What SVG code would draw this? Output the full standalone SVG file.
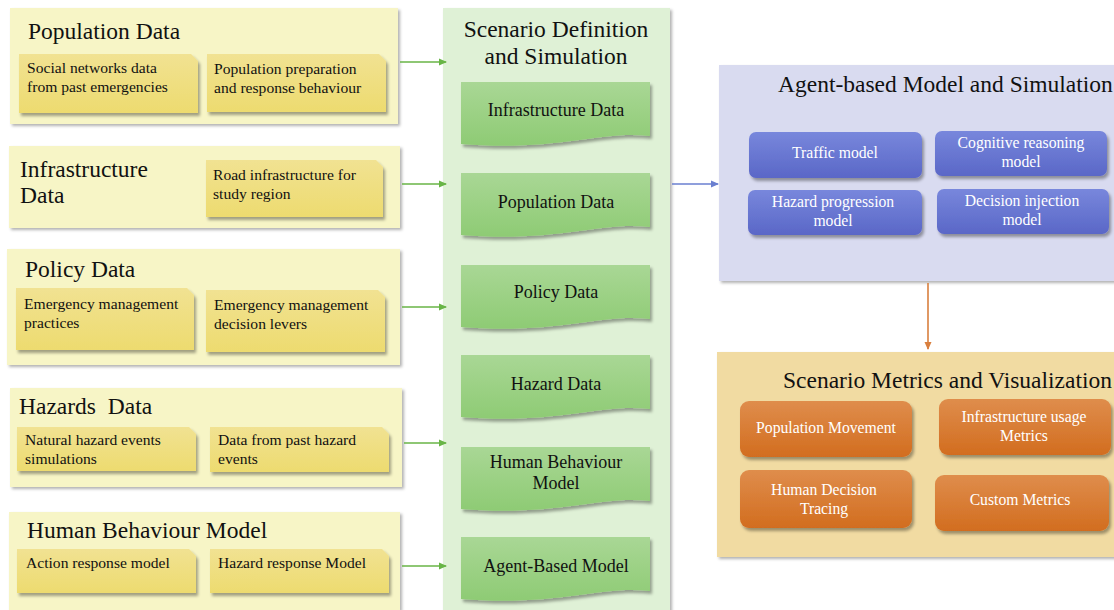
<svg xmlns="http://www.w3.org/2000/svg" width="1114" height="610" viewBox="0 0 1114 610">
<defs>
<filter id="sh" x="-10%" y="-10%" width="125%" height="135%">
<feDropShadow dx="2" dy="3" stdDeviation="1.6" flood-color="#000" flood-opacity="0.35"/>
</filter>
<filter id="sh2" x="-5%" y="-5%" width="112%" height="112%">
<feDropShadow dx="2" dy="2" stdDeviation="1.5" flood-color="#000" flood-opacity="0.3"/>
</filter>
<linearGradient id="gY" x1="0" y1="0" x2="0" y2="1"><stop offset="0" stop-color="#f1e292"/><stop offset="1" stop-color="#eddb6f"/></linearGradient>
<linearGradient id="gG" x1="0" y1="0" x2="0" y2="1"><stop offset="0" stop-color="#a9d795"/><stop offset="1" stop-color="#8ecb74"/></linearGradient>
<linearGradient id="gB" x1="0" y1="0" x2="0" y2="1"><stop offset="0" stop-color="#7887dc"/><stop offset="1" stop-color="#5a67c7"/></linearGradient>
<linearGradient id="gO" x1="0" y1="0" x2="0" y2="1"><stop offset="0" stop-color="#df8d4c"/><stop offset="1" stop-color="#d26d1f"/></linearGradient>
<marker id="aG" markerWidth="8" markerHeight="8" refX="7" refY="4" orient="auto" markerUnits="userSpaceOnUse"><path d="M0,0.5 L8,4 L0,7.5 Z" fill="#68b546"/></marker>
<marker id="aB" markerWidth="8" markerHeight="8" refX="7" refY="4" orient="auto" markerUnits="userSpaceOnUse"><path d="M0,0.5 L8,4 L0,7.5 Z" fill="#6a7fd0"/></marker>
<marker id="aO" markerWidth="8" markerHeight="8" refX="7" refY="4" orient="auto" markerUnits="userSpaceOnUse"><path d="M0,0.5 L8,4 L0,7.5 Z" fill="#d97f3e"/></marker>
<path id="doc" d="M0,0 H189 V54 C140,48 95,70 0,62 Z"/>
</defs>
<style>
text{font-family:"Liberation Serif","Times New Roman",serif;fill:#111}
.ttl{font-size:23.5px}
.ct{font-size:15.6px}
.wt{font-size:15.7px;fill:#fff}
.dt{font-size:18px}
.outY{fill:#f7f5c6;filter:url(#sh2)}
.outG{fill:#dff1d6;filter:url(#sh2)}
.outB{fill:#d9dbf0;filter:url(#sh2)}
.outO{fill:#f1dba2;filter:url(#sh2)}
.cardY{fill:url(#gY);filter:url(#sh)}
.doc{fill:url(#gG);filter:url(#sh)}
.cardB{fill:url(#gB);filter:url(#sh)}
.cardO{fill:url(#gO);filter:url(#sh)}
.mid{text-anchor:middle}
</style>
<rect width="1114" height="610" fill="#fff"/>

<g id="population-data">
<rect class="outY" x="10" y="8" width="388" height="116"/>
<text class="ttl" x="28" y="39">Population Data</text>
<path class="cardY" d="M19,54 H191 L198,61 V113 H19 Z"/>
<text class="ct" x="27" y="73">Social networks data</text>
<text class="ct" x="27" y="92">from past emergencies</text>
<path class="cardY" d="M207,54 H379 L386,61 V112 H207 Z"/>
<text class="ct" x="214" y="74">Population preparation</text>
<text class="ct" x="214" y="93">and response behaviour</text>
</g>

<g id="infrastructure-data">
<rect class="outY" x="9" y="146" width="391" height="82"/>
<text class="ttl" x="20" y="177">Infrastructure</text>
<text class="ttl" x="20" y="203">Data</text>
<path class="cardY" d="M206,160 H376 L383,167 V217 H206 Z"/>
<text class="ct" x="213" y="180">Road infrastructure for</text>
<text class="ct" x="213" y="199">study region</text>
</g>

<g id="policy-data">
<rect class="outY" x="7" y="249" width="393" height="116"/>
<text class="ttl" x="25" y="277">Policy Data</text>
<path class="cardY" d="M16,288 H187 L194,295 V350 H16 Z"/>
<text class="ct" x="24" y="309">Emergency management</text>
<text class="ct" x="24" y="328">practices</text>
<path class="cardY" d="M206,290 H378 L385,297 V352 H206 Z"/>
<text class="ct" x="214" y="310">Emergency management</text>
<text class="ct" x="214" y="329">decision levers</text>
</g>

<g id="hazards-data">
<rect class="outY" x="10" y="388" width="392" height="99"/>
<text class="ttl" x="19" y="414" xml:space="preserve">Hazards  Data</text>
<path class="cardY" d="M17,427 H189 L196,434 V471 H17 Z"/>
<text class="ct" x="25" y="445">Natural hazard events</text>
<text class="ct" x="25" y="464">simulations</text>
<path class="cardY" d="M210,427 H382 L389,434 V472 H210 Z"/>
<text class="ct" x="218" y="445">Data from past hazard</text>
<text class="ct" x="218" y="464">events</text>
</g>

<g id="human-behaviour-model">
<rect class="outY" x="9" y="512" width="391" height="98"/>
<text class="ttl" x="27" y="538">Human Behaviour Model</text>
<path class="cardY" d="M17,549 H189 L196,556 V593 H17 Z"/>
<text class="ct" x="26" y="568">Action response model</text>
<path class="cardY" d="M210,549 H382 L389,556 V593 H210 Z"/>
<text class="ct" x="218" y="568">Hazard response Model</text>
</g>

<g id="scenario-definition">
<rect class="outG" x="443" y="8" width="227" height="604"/>
<text class="ttl mid" x="556" y="37">Scenario Definition</text>
<text class="ttl mid" x="556" y="64">and Simulation</text>
<use href="#doc" class="doc" x="461" y="82"/>
<text class="dt mid" x="556" y="116">Infrastructure Data</text>
<use href="#doc" class="doc" x="461" y="173"/>
<text class="dt mid" x="556" y="208">Population Data</text>
<use href="#doc" class="doc" x="461" y="265"/>
<text class="dt mid" x="556" y="298">Policy Data</text>
<use href="#doc" class="doc" x="461" y="355"/>
<text class="dt mid" x="556" y="390">Hazard Data</text>
<use href="#doc" class="doc" x="461" y="447"/>
<text class="dt mid" x="556" y="468">Human Behaviour</text>
<text class="dt mid" x="556" y="489">Model</text>
<use href="#doc" class="doc" x="461" y="537"/>
<text class="dt mid" x="556" y="572">Agent-Based Model</text>
</g>

<g id="agent-based-model">
<rect class="outB" x="719" y="65" width="400" height="216"/>
<text class="ttl" x="778" y="92">Agent-based Model and Simulation</text>
<rect class="cardB" x="749" y="132" width="173" height="46" rx="7"/>
<text class="wt mid" x="835" y="158">Traffic model</text>
<rect class="cardB" x="935" y="131" width="172" height="45" rx="7"/>
<text class="wt mid" x="1021" y="148">Cognitive reasoning</text>
<text class="wt mid" x="1021" y="167">model</text>
<rect class="cardB" x="748" y="190" width="174" height="45" rx="7"/>
<text class="wt mid" x="833" y="207">Hazard progression</text>
<text class="wt mid" x="833" y="226">model</text>
<rect class="cardB" x="937" y="189" width="172" height="45" rx="7"/>
<text class="wt mid" x="1022" y="206">Decision injection</text>
<text class="wt mid" x="1022" y="225">model</text>
</g>

<g id="scenario-metrics">
<rect class="outO" x="717" y="352" width="402" height="205"/>
<text class="ttl" x="783" y="388">Scenario Metrics and Visualization</text>
<rect class="cardO" x="740" y="401" width="172" height="56" rx="9"/>
<text class="wt mid" x="826" y="433">Population Movement</text>
<rect class="cardO" x="939" y="399" width="172" height="56" rx="9"/>
<text class="wt mid" x="1024" y="422">Infrastructure usage</text>
<text class="wt mid" x="1024" y="441">Metrics</text>
<rect class="cardO" x="740" y="470" width="172" height="58" rx="9"/>
<text class="wt mid" x="824" y="495">Human Decision</text>
<text class="wt mid" x="824" y="514">Tracing</text>
<rect class="cardO" x="935" y="475" width="174" height="56" rx="9"/>
<text class="wt mid" x="1020" y="505">Custom Metrics</text>
</g>

<g id="connectors" fill="none" stroke-width="1.6">
<line x1="400" y1="62" x2="446" y2="62" stroke="#68b546" marker-end="url(#aG)"/>
<line x1="402" y1="184" x2="446" y2="184" stroke="#68b546" marker-end="url(#aG)"/>
<line x1="402" y1="307" x2="446" y2="307" stroke="#68b546" marker-end="url(#aG)"/>
<line x1="404" y1="443" x2="446" y2="443" stroke="#68b546" marker-end="url(#aG)"/>
<line x1="402" y1="566" x2="446" y2="566" stroke="#68b546" marker-end="url(#aG)"/>
<line x1="672" y1="184" x2="718" y2="184" stroke="#6a7fd0" marker-end="url(#aB)"/>
<line x1="928" y1="283" x2="928" y2="349" stroke="#d97f3e" marker-end="url(#aO)"/>
</g>
</svg>
